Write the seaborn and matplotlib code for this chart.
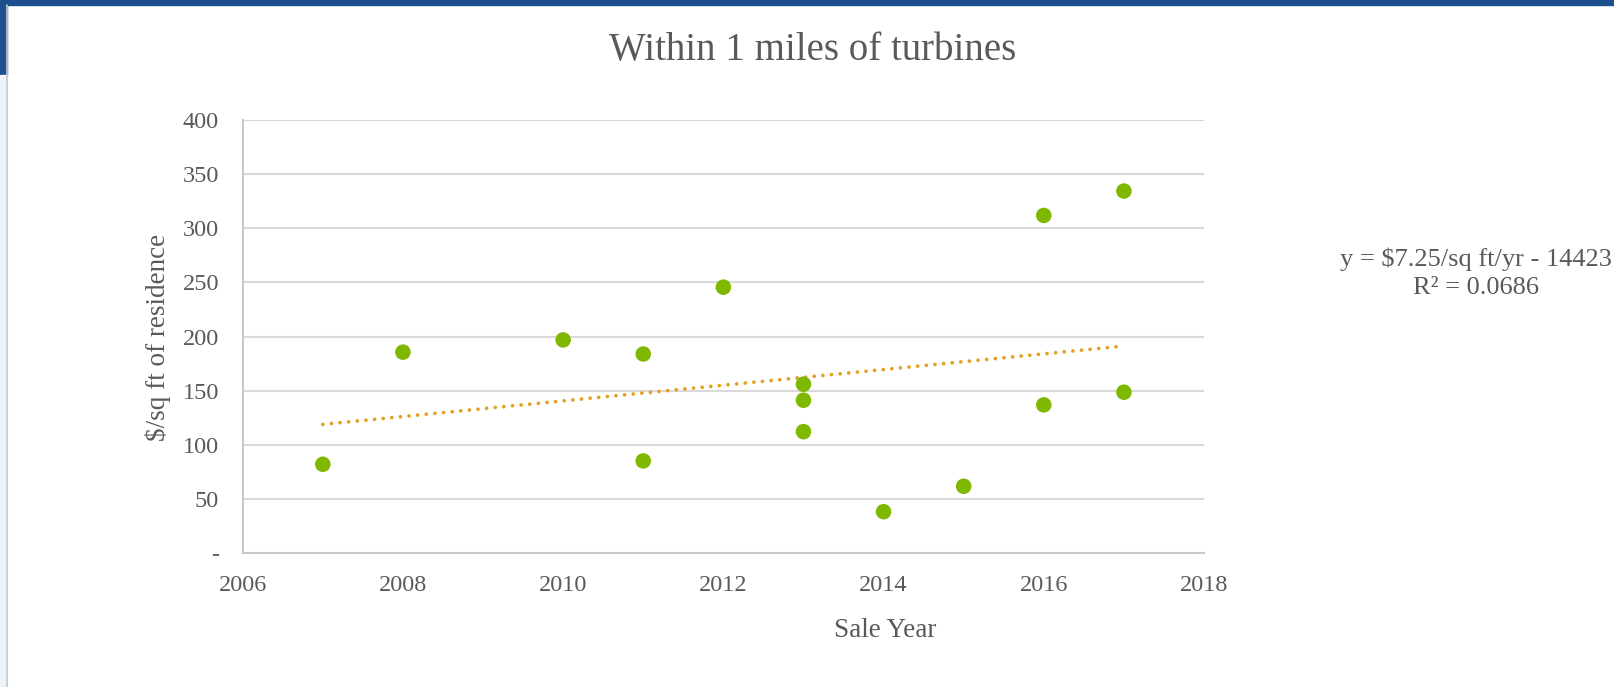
import numpy as np
import pandas as pd
import matplotlib
matplotlib.use("Agg")
import matplotlib.pyplot as plt
import seaborn as sns
from matplotlib.patches import Rectangle
from matplotlib.ticker import FuncFormatter

# ---- data ----
sale_year = [2007, 2008, 2010, 2011, 2011, 2012, 2013, 2013, 2013, 2014, 2015, 2016, 2016, 2017, 2017]
price_sqft = [82.2, 185.7, 197.0, 184.0, 85.3, 245.7, 156.1, 141.3, 112.3, 38.4, 61.9, 311.9, 137.0, 334.4, 148.7]
x_ticks = [2006, 2008, 2010, 2012, 2014, 2016, 2018]
y_ticks = [0, 50, 100, 150, 200, 250, 300, 350, 400]
title = "Within 1 miles of turbines"
x_label = "Sale Year"
y_label = "$/sq ft of residence"
eq_line1 = "y = $7.25/sq ft/yr - 14423"
eq_line2 = "R² = 0.0686"

df = pd.DataFrame({"year": sale_year, "price": price_sqft})

sns.set_theme(style="white")
plt.rcParams["font.family"] = ["Liberation Serif", "DejaVu Serif"]

W, H, DPI = 1615, 687, 100
fig = plt.figure(figsize=(W / DPI, H / DPI), dpi=DPI)
fig.patch.set_facecolor("white")

# slide frame decoration
fig.patches.append(Rectangle((0, 1 - 5 / H), 1, 5 / H, transform=fig.transFigure,
                             color="#1d4f8f", zorder=0))
fig.patches.append(Rectangle((0, 1 - 75 / H), 7 / W, 75 / H, transform=fig.transFigure,
                             color="#1d4f8f", zorder=0))
fig.patches.append(Rectangle((0, 0), 7 / W, 1 - 75 / H, transform=fig.transFigure,
                             color="#eef3f8", zorder=0))
fig.lines.append(plt.Line2D([7.5 / W, 7.5 / W], [0, 1 - 5 / H], transform=fig.transFigure,
                            color="#c8c8c8", lw=1.2))

L, R, T, B = 242.7, 1204.0, 120.0, 553.3
ax = fig.add_axes([L / W, 1 - B / H, (R - L) / W, (B - T) / H])

text_col = "#595959"
grid_col = "#d9d9d9"

sns.regplot(data=df, x="year", y="price", ax=ax, ci=None, truncate=True,
            scatter_kws=dict(s=125, color="#7fb800", edgecolor="none", alpha=1, zorder=3),
            line_kws=dict(color="#e4a023", lw=2.7, linestyle=(0, (0.01, 2.3)),
                          dash_capstyle="round", zorder=2))

ax.set_xlim(2006, 2018)
ax.set_ylim(0, 400)
ax.set_xticks(x_ticks)
ax.set_yticks(y_ticks)
ax.yaxis.set_major_formatter(FuncFormatter(lambda v, p: "-" if v == 0 else f"{int(v)}"))
ax.grid(axis="y", color=grid_col, lw=1.5)
ax.set_axisbelow(True)
for s in ["top", "right"]:
    ax.spines[s].set_visible(False)
for s in ["left", "bottom"]:
    ax.spines[s].set_color("#c8c8c8")
    ax.spines[s].set_linewidth(1.5)
ax.tick_params(axis="both", length=0, labelsize=17.5, colors=text_col)
ax.tick_params(axis="x", pad=15.5)
ax.tick_params(axis="y", pad=17)

ax.set_xlabel(x_label, fontsize=19.5, color=text_col)
ax.set_ylabel(y_label, fontsize=19.5, color=text_col)
ax.xaxis.label.set_verticalalignment("baseline")
ax.xaxis.set_label_coords((885 - L) / (R - L), -(637 - B) / (B - T))
ax.yaxis.set_label_coords(-(L - 171) / (R - L), (B - 337) / (B - T))

fig.text(813 / W, 1 - 60 / H, title, ha="center", va="baseline", fontsize=28, color=text_col)
fig.text(1476 / W, 1 - 266 / H, eq_line1, ha="center", va="baseline", fontsize=19, color=text_col)
fig.text(1476 / W, 1 - 294 / H, eq_line2, ha="center", va="baseline", fontsize=19, color=text_col)

fig.savefig("out.png", dpi=DPI)
